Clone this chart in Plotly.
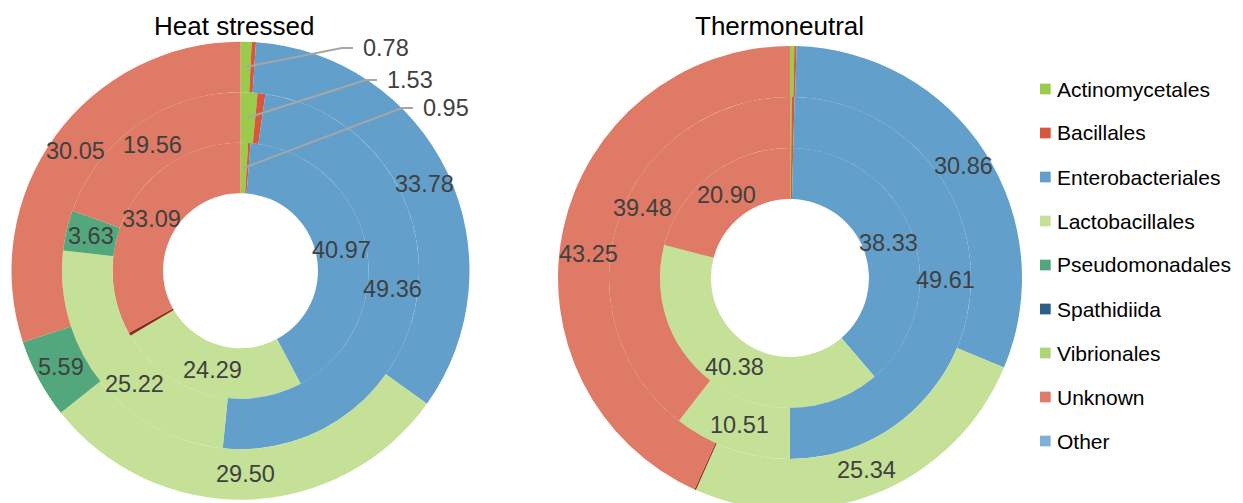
import math
import plotly.graph_objects as go

# Canvas size in pixels (the right-hand donut runs slightly past the bottom edge)
W, H = 1243, 510

# Legend order of the bacterial orders
categories = ["Actinomycetales", "Bacillales", "Enterobacteriales", "Lactobacillales",
              "Pseudomonadales", "Spathidiida", "Vibrionales", "Unknown", "Other"]

# Relative abundance (%) per ring, listed in category order (0 = not present)
heat_inner = [0.95, 0.30, 40.97, 24.29, 0.00, 0.40, 0.00, 33.09, 0.00]
heat_middle = [1.53, 0.70, 49.36, 25.22, 3.63, 0.00, 0.00, 19.56, 0.00]
heat_outer = [0.78, 0.30, 33.78, 29.50, 5.59, 0.00, 0.00, 30.05, 0.00]

thermo_inner = [0.15, 0.24, 38.33, 40.38, 0.00, 0.00, 0.00, 20.90, 0.00]
thermo_middle = [0.15, 0.25, 49.61, 10.51, 0.00, 0.00, 0.00, 39.48, 0.00]
thermo_outer = [0.30, 0.15, 30.86, 25.34, 0.00, 0.10, 0.00, 43.25, 0.00]

panel_titles = ["Heat stressed", "Thermoneutral"]

# ---- styling -------------------------------------------------------------
legend_colors = ["#9BCB4B", "#D8573C", "#629FCB", "#C4E197", "#52A77C",
                 "#2C6088", "#ADD777", "#DE7A65", "#7FB1D8"]
# thin slivers are drawn in a dark red edge colour
slice_colors = dict(zip(categories, legend_colors))
slice_colors["Spathidiida"] = "#8C2C20"

FONT = "Liberation Sans, Arial, sans-serif"
LABEL_COLOR = "#404040"
LABEL_SIZE = 23.5

# geometry of each panel: centre (px) and ring boundary radii (px), hole -> outer
panels = {
    "heat": dict(cx=240.5, cy=270.7, radii=[77.5, 128.0, 178.5, 229.0],
                 rings=[heat_inner, heat_middle, heat_outer], title=(234, 26)),
    "thermo": dict(cx=790.0, cy=278.0, radii=[79.0, 130.0, 181.0, 232.0],
                   rings=[thermo_inner, thermo_middle, thermo_outer], title=(779, 26)),
}

# small slices labelled with leader lines: (panel, ring) -> text left edge / baseline centre
leader_labels = {
    ("heat", 2): (361, 48),
    ("heat", 1): (385, 80),
    ("heat", 0): (421, 108),
}
# manual shifts (px) for a few inside labels
label_nudge = {
    ("heat", 1, "Lactobacillales"): (13, 17),
    ("thermo", 2, "Unknown"): (0, 19.5),
    ("thermo", 1, "Unknown"): (0, -20),
}


def px(x):
    return x / W


def py(y):
    return (H - y) / H


fig = go.Figure()
annotations = []
shapes = []

for key, p in panels.items():
    cx, cy, radii = p["cx"], p["cy"], p["radii"]
    for ring_idx, values in enumerate(p["rings"]):
        r_in, r_out = radii[ring_idx], radii[ring_idx + 1]
        labels = [c for c, v in zip(categories, values) if v > 0]
        vals = [v for v in values if v > 0]
        fig.add_trace(go.Pie(
            labels=labels,
            values=vals,
            sort=False,
            direction="clockwise",
            rotation=0,
            hole=r_in / r_out,
            marker=dict(colors=[slice_colors[c] for c in labels], line=dict(width=0)),
            textinfo="none",
            hovertemplate="%{label}: %{value:.2f}<extra></extra>",
            showlegend=False,
            domain=dict(x=[px(cx - r_out), px(cx + r_out)],
                        y=[py(cy + r_out), py(cy - r_out)]),
        ))

        # value labels placed at each slice's mid-angle, mid-ring
        total = sum(vals)
        r_mid = (r_in + r_out) / 2
        cum = 0.0
        for c, v in zip(labels, vals):
            theta = math.radians(360 * (cum + v / 2) / total)
            cum += v
            x = cx + r_mid * math.sin(theta)
            y = cy - r_mid * math.cos(theta)
            if c == "Actinomycetales" and (key, ring_idx) in leader_labels:
                tx, ty = leader_labels[(key, ring_idx)]
                shapes.append(dict(
                    type="path", xref="paper", yref="paper",
                    path=f"M {px(x)},{py(y)} L {px(tx - 19)},{py(ty)} L {px(tx - 8)},{py(ty)}",
                    line=dict(color="#A6A6A6", width=2),
                ))
                annotations.append(dict(
                    x=px(tx), y=py(ty), xref="paper", yref="paper",
                    text=f"{v:.2f}", showarrow=False, xanchor="left", yanchor="middle",
                    font=dict(family=FONT, size=LABEL_SIZE, color=LABEL_COLOR),
                ))
            elif v >= 2:
                dx, dy = label_nudge.get((key, ring_idx, c), (0, 0))
                annotations.append(dict(
                    x=px(x + dx), y=py(y + dy), xref="paper", yref="paper",
                    text=f"{v:.2f}", showarrow=False, xanchor="center", yanchor="middle",
                    font=dict(family=FONT, size=LABEL_SIZE, color=LABEL_COLOR),
                ))

# panel titles
for (key, p), title in zip(panels.items(), panel_titles):
    tx, ty = p["title"]
    annotations.append(dict(
        x=px(tx), y=py(ty), xref="paper", yref="paper", text=title,
        showarrow=False, xanchor="center", yanchor="middle",
        font=dict(family=FONT, size=26, color="#000000"),
    ))

# legend: coloured squares with names
LEG_X, LEG_Y0, LEG_STEP, SQ = 1040.0, 89.0, 44.0, 10.7
for i, (name, col) in enumerate(zip(categories, legend_colors)):
    yc = LEG_Y0 + i * LEG_STEP
    shapes.append(dict(
        type="rect", xref="paper", yref="paper",
        x0=px(LEG_X), x1=px(LEG_X + SQ), y0=py(yc + SQ / 2), y1=py(yc - SQ / 2),
        fillcolor=col, line=dict(width=0),
    ))
    annotations.append(dict(
        x=px(LEG_X + SQ + 4.5), y=py(yc), xref="paper", yref="paper", text=name,
        showarrow=False, xanchor="left", yanchor="middle",
        font=dict(family=FONT, size=21, color="#000000"),
    ))

fig.update_layout(
    width=W, height=H,
    margin=dict(l=0, r=0, t=0, b=0),
    paper_bgcolor="white",
    plot_bgcolor="white",
    showlegend=False,
    annotations=annotations,
    shapes=shapes,
)

fig.write_html("out.html")
